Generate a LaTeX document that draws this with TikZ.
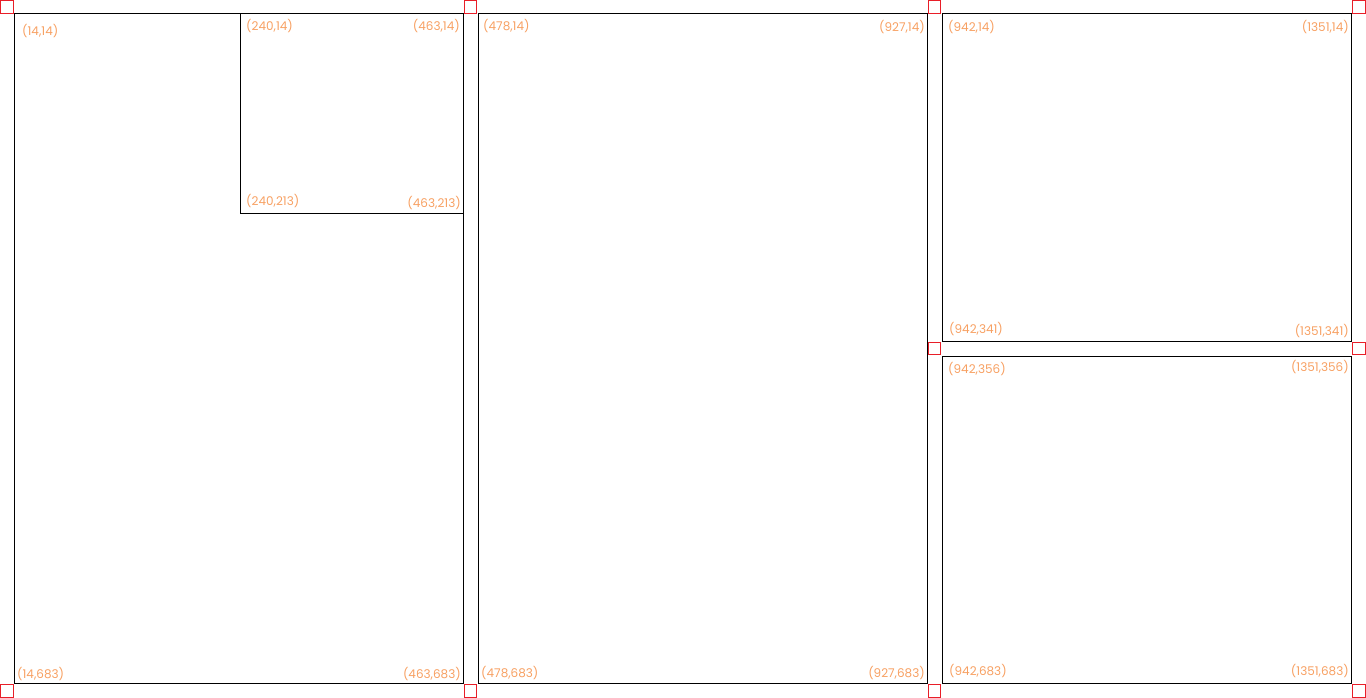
\documentclass[tikz,border=0pt]{standalone}
\usepackage{fontspec}
\setmainfont{Poppins}
\usepackage{tikz}
\usetikzlibrary{positioning}
\definecolor{lblorange}{RGB}{247,160,98}
\definecolor{gapred}{RGB}{232,30,40}
\tikzset{%
  panel/.style = {draw=black,line width=1pt},
  lbl/.style = {text=lblorange,inner sep=0pt,
        font=\fontsize{12}{14}\selectfont},
  gap/.style = {rectangle,draw=gapred,line width=1.2pt,
        minimum width=12.5pt,minimum height=12.5pt,inner sep=0pt}
}
\begin{document}
\begin{tikzpicture}[x=1pt,y=-1pt]
                    \useasboundingbox (0,0) rectangle (1366,698);
                    % panels
                    \draw[panel] (14,14) rectangle (463,683);
                    \draw[panel] (240,14) rectangle (463,213);
                    \draw[panel] (478,14) rectangle (927,683);
                    \draw[panel] (942,14) rectangle (1351,341);
                    \draw[panel] (942,356) rectangle (1351,683);

                    % gap markers
                    \node[gap] (g1) at (7,7) {};
                    \node[gap] (g2) at (470.5,7) {};
                    \node[gap] (g3) at (934.5,7) {};
                    \node[gap] (g4) at (1359,7) {};
                    \node[gap] (g5) at (934.5,348.5) {};
                    \node[gap] (g6) at (1359,348.5) {};
                    \node[gap] (g7) at (7,691) {};
                    \node[gap] (g8) at (470.5,691) {};
                    \node[gap] (g9) at (934.5,691) {};
                    \node[gap] (g10) at (1359,691) {};

                    % corner labels
                    \node[lbl,anchor=west] (a1) at (22,31) {(14,14)};
                    \node[lbl,anchor=west] (a2) at (246,26) {(240,14)};
                    \node[lbl,anchor=east] (a3) at (460,26) {(463,14)};
                    \node[lbl,anchor=west] (a4) at (246,201) {(240,213)};
                    \node[lbl,anchor=east] (a5) at (461,203) {(463,213)};
                    \node[lbl,anchor=west] (a6) at (17,674) {(14,683)};
                    \node[lbl,anchor=east] (a7) at (461,674) {(463,683)};

                    \node[lbl,anchor=west] (b1) at (483,26) {(478,14)};
                    \node[lbl,anchor=east] (b2) at (925,27) {(927,14)};
                    \node[lbl,anchor=west] (b3) at (481,673) {(478,683)};
                    \node[lbl,anchor=east] (b4) at (925,673) {(927,683)};

                    \node[lbl,anchor=west] (c1) at (948,27) {(942,14)};
                    \node[lbl,anchor=east] (c2) at (1349,27) {(1351,14)};
                    \node[lbl,anchor=west] (c3) at (949,329) {(942,341)};
                    \node[lbl,anchor=east] (c4) at (1349,331) {(1351,341)};
                    \node[lbl,anchor=west] (c5) at (948,369) {(942,356)};
                    \node[lbl,anchor=east] (c6) at (1349,367) {(1351,356)};
                    \node[lbl,anchor=west] (c7) at (949,671) {(942,683)};
                    \node[lbl,anchor=east] (c8) at (1349,671) {(1351,683)};
                 \end{tikzpicture}
\end{document}
